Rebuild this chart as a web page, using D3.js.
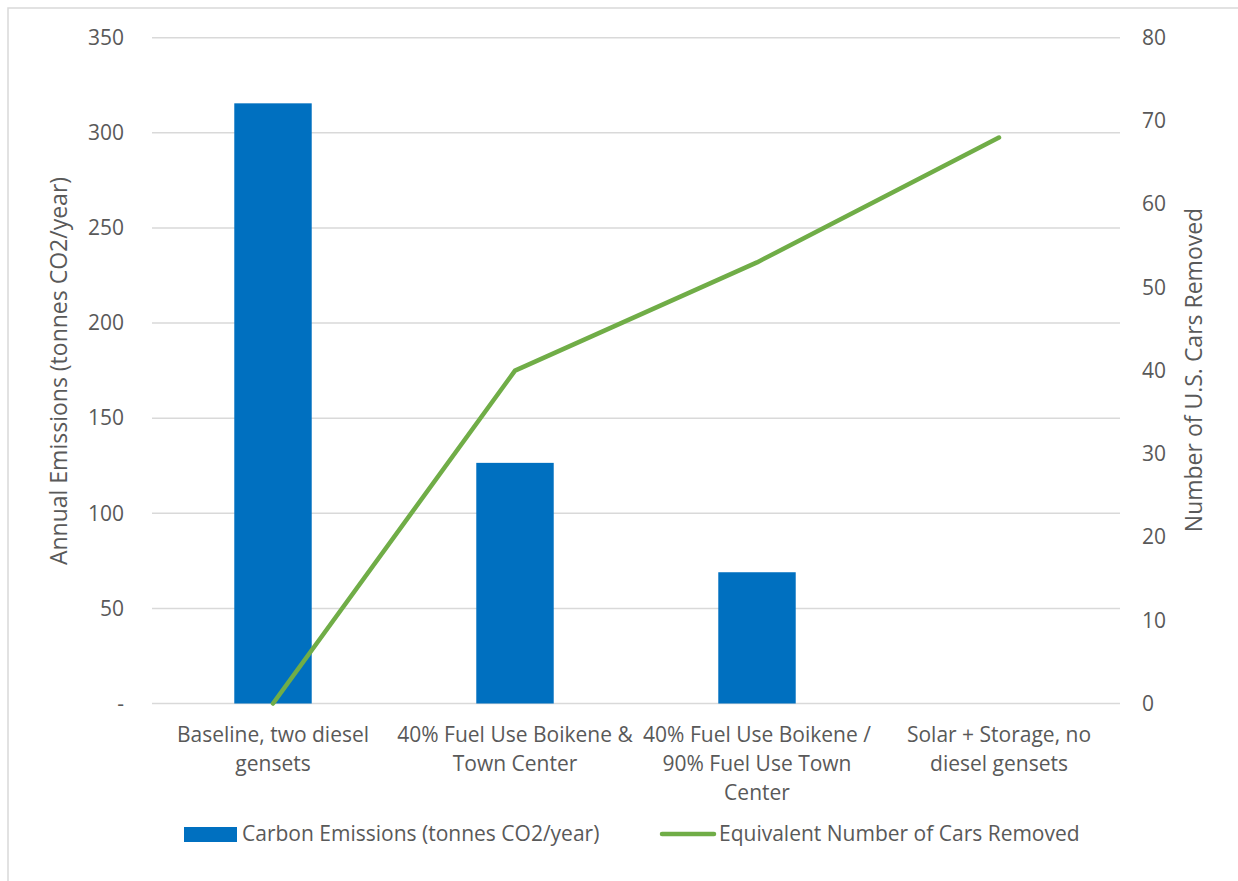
<!DOCTYPE html>
<html><head><meta charset="utf-8">
<script src="https://cdn.jsdelivr.net/npm/d3@7"></script>
<style>body{margin:0;background:#fff}svg{display:block}text{font-family:"Open Sans",sans-serif;fill:#595959}</style>
</head><body><svg id="c" width="1238" height="881"></svg>
<script>
const categories = ["Baseline, two diesel\ngensets", "40% Fuel Use Boikene &\nTown Center", "40% Fuel Use Boikene /\n90% Fuel Use Town\nCenter", "Solar + Storage, no\ndiesel gensets"];
const emissions = [315.5, 126.5, 69, 0];
const carsRemoved = [0, 40, 53, 68];
const leftTicks = [0, 50, 100, 150, 200, 250, 300, 350];
const rightTicks = [0, 10, 20, 30, 40, 50, 60, 70, 80];
const seriesNames = ["Carbon Emissions (tonnes CO2/year)", "Equivalent Number of Cars Removed"];
const axisTitles = ["Annual Emissions (tonnes CO2/year)", "Number of U.S. Cars Removed"];

const svg = d3.select("#c");
const L = 152, R = 1120, T = 37.7, B = 703.5;
const fs = 21, tfs = 23;
svg.append("rect").attr("x", 8).attr("y", 8).attr("width", 1260).attr("height", 900)
  .attr("fill", "none").attr("stroke", "#D9D9D9").attr("stroke-width", 1.5);

const x = d3.scaleBand().domain(categories).range([L, R]).paddingInner(0.68).paddingOuter(0.34);
const yL = d3.scaleLinear().domain([0, 350]).range([B, T]);
const yR = d3.scaleLinear().domain([0, 80]).range([B, T]);

// gridlines
svg.append("g").selectAll("line").data(leftTicks).join("line")
  .attr("x1", L).attr("x2", R).attr("y1", d => yL(d)).attr("y2", d => yL(d))
  .attr("stroke", "#D9D9D9").attr("stroke-width", 1.5);

// left axis
const gL = svg.append("g").attr("transform", `translate(${L},0)`)
  .call(d3.axisLeft(yL).tickValues(leftTicks).tickSize(0).tickPadding(28).tickFormat(d => d === 0 ? "-" : d));
gL.select(".domain").remove();
gL.selectAll("text").style("font-size", fs + "px").style("font-family", '"Open Sans",sans-serif').attr("fill", "#595959");

// right axis
const gR = svg.append("g").attr("transform", `translate(${R},0)`)
  .call(d3.axisRight(yR).tickValues(rightTicks).tickSize(0).tickPadding(22));
gR.select(".domain").remove();
gR.selectAll("text").style("font-size", fs + "px").style("font-family", '"Open Sans",sans-serif').attr("fill", "#595959");

// bars
svg.append("g").selectAll("rect").data(categories).join("rect")
  .attr("x", d => x(d)).attr("width", x.bandwidth())
  .attr("y", (d, i) => yL(emissions[i])).attr("height", (d, i) => yL(0) - yL(emissions[i]))
  .attr("fill", "#0070C0");

// line
const line = d3.line().x((d, i) => x(categories[i]) + x.bandwidth() / 2).y(d => yR(d));
svg.append("path").datum(carsRemoved).attr("d", line)
  .attr("fill", "none").attr("stroke", "#70AD47").attr("stroke-width", 4.5).attr("stroke-linecap", "round").attr("stroke-linejoin", "round");

// category labels
const catG = svg.append("g");
categories.forEach(c => {
  const t = catG.append("text").attr("text-anchor", "middle").style("font-size", fs + "px");
  c.split("\n").forEach((ln, j) => {
    t.append("tspan").attr("x", x(c) + x.bandwidth() / 2).attr("y", 742 + j * 29).text(ln);
  });
});

// axis titles
svg.append("text").attr("transform", `translate(67,371) rotate(-90)`).attr("text-anchor", "middle")
  .style("font-size", tfs + "px").text(axisTitles[0]);
svg.append("text").attr("transform", `translate(1202,370) rotate(-90)`).attr("text-anchor", "middle")
  .style("font-size", tfs + "px").text(axisTitles[1]);

// legend
svg.append("rect").attr("x", 184).attr("y", 827).attr("width", 53).attr("height", 15).attr("fill", "#0070C0");
svg.append("text").attr("x", 242).attr("y", 841).style("font-size", fs + "px").text(seriesNames[0]);
svg.append("line").attr("x1", 662).attr("x2", 714).attr("y1", 834).attr("y2", 834)
  .attr("stroke", "#70AD47").attr("stroke-width", 4.5).attr("stroke-linecap", "round");
svg.append("text").attr("x", 719).attr("y", 841).style("font-size", fs + "px").text(seriesNames[1]);
</script></body></html>
